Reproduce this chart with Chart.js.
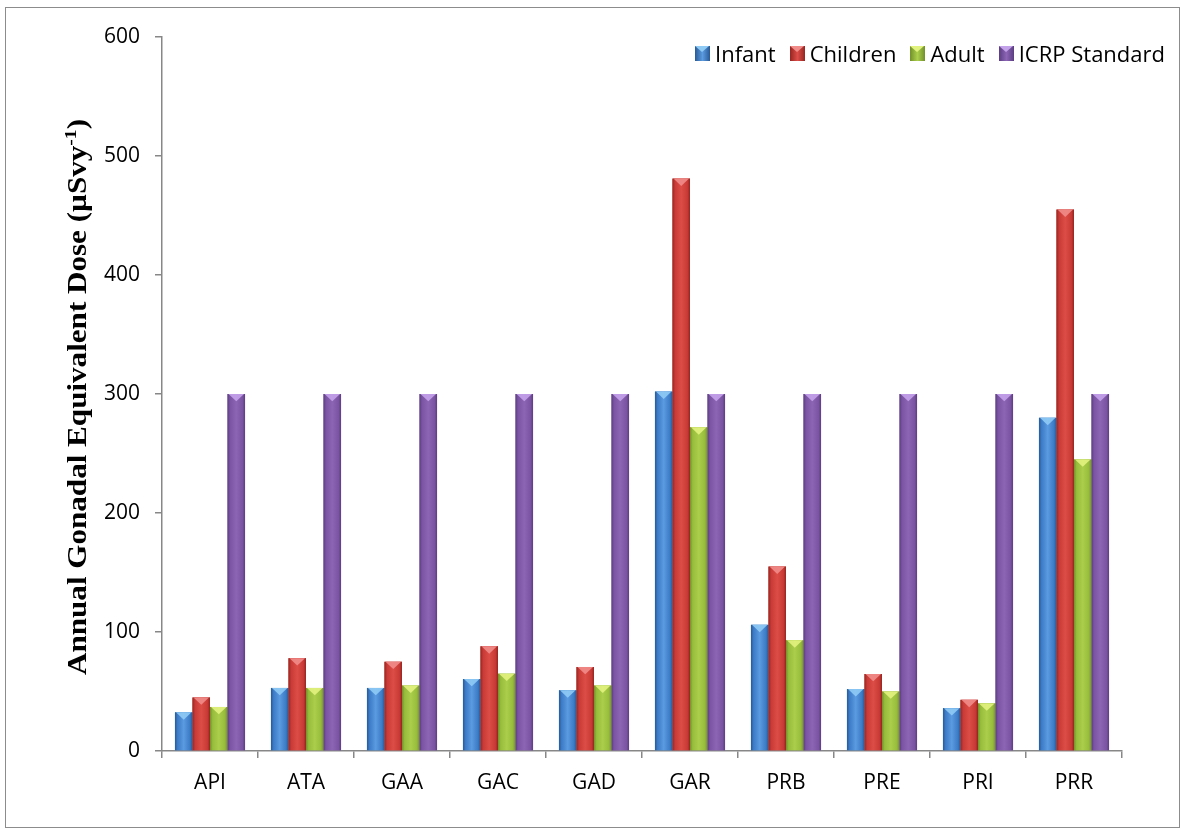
<!DOCTYPE html>
<html>
<head>
<meta charset="utf-8">
<script src="https://cdn.jsdelivr.net/npm/chart.js@4.4.1/dist/chart.umd.min.js"></script>
<style>
html,body{margin:0;padding:0;background:#fff;}
#wrap{position:relative;width:1184px;height:834px;overflow:hidden;}
#frame{position:absolute;left:5px;top:7px;width:1175px;height:821px;border:1px solid #8c8c8c;box-sizing:border-box;pointer-events:none;}
canvas{position:absolute;left:0;top:0;}
#legend{position:absolute;top:38px;right:19px;display:flex;align-items:center;font-family:"Open Sans",Lato,sans-serif;font-size:22px;color:#000;white-space:nowrap;}
#legend .item{display:flex;align-items:center;margin-left:14px;}
#legend .box{width:15px;height:15px;margin-right:5px;position:relative;}
</style>
</head>
<body>
<div id="wrap">
<canvas id="c" width="1184" height="834"></canvas>
<div id="frame"></div>
<div id="legend"></div>
</div>
<script>
const categories = ['API','ATA','GAA','GAC','GAD','GAR','PRB','PRE','PRI','PRR'];
const infant   = [32.5, 53, 53, 60.5, 51, 302, 106, 52, 36, 280];
const children = [45, 78, 75, 88, 70.6, 481, 155, 64.7, 43, 455];
const adult    = [37, 53, 55, 65, 55, 272, 93, 50, 40, 245];
const icrp     = [300, 300, 300, 300, 300, 300, 300, 300, 300, 300];
const seriesNames = ['Infant','Children','Adult','ICRP Standard'];
const yTicks = [0, 100, 200, 300, 400, 500, 600];

const palette = [
  {base:'#3c7bc6', dark:'#285a96', light:'#5b9be0', tri:'#8fcaf5'},
  {base:'#c83a35', dark:'#962521', light:'#dd4d48', tri:'#f08c8a'},
  {base:'#97bb3b', dark:'#72902a', light:'#abcf4c', tri:'#e2f27e'},
  {base:'#7b55a3', dark:'#5c3d82', light:'#8c66b5', tri:'#c4a2ea'}
];

const seriesData = [infant, children, adult, icrp];

// HTML legend
const lg = document.getElementById('legend');
seriesNames.forEach((n,i)=>{
  const it = document.createElement('div'); it.className='item';
  const b = document.createElement('div'); b.className='box';
  const p = palette[i];
  b.style.background = `linear-gradient(to right, ${p.dark}, ${p.light} 50%, ${p.dark})`;
  b.innerHTML = `<div style="position:absolute;left:0;top:0;width:0;height:0;border-left:7.5px solid transparent;border-right:7.5px solid transparent;border-top:6px solid ${p.tri};"></div>`;
  const t = document.createElement('span'); t.textContent = n;
  it.appendChild(b); it.appendChild(t); lg.appendChild(it);
});

const shadePlugin = {
  id:'shade',
  afterDatasetsDraw(chart){
    const ctx = chart.ctx;
    chart.data.datasets.forEach((ds, di)=>{
      const meta = chart.getDatasetMeta(di);
      const p = palette[di];
      meta.data.forEach(el=>{
        const w = el.width, l = el.x - w/2, r = el.x + w/2, top = el.y, base = el.base;
        const g = ctx.createLinearGradient(l,0,r,0);
        g.addColorStop(0, p.dark);
        g.addColorStop(0.15, p.base);
        g.addColorStop(0.5, p.light);
        g.addColorStop(0.85, p.base);
        g.addColorStop(1, p.dark);
        ctx.save();
        ctx.fillStyle = g;
        ctx.fillRect(l, top, w, base-top);
        ctx.beginPath();
        ctx.moveTo(l+1, top);
        ctx.lineTo(r-1, top);
        ctx.lineTo(el.x, top + Math.min(w*0.42, base-top));
        ctx.closePath();
        ctx.fillStyle = p.tri;
        ctx.globalAlpha = 0.9;
        ctx.fill();
        ctx.restore();
      });
    });
  }
};

const titlePlugin = {
  id:'ytitle',
  afterDraw(chart){
    const ctx = chart.ctx;
    const main = 'Annual Gonadal Equivalent Dose (\u00B5Svy';
    const sup = '-1';
    const end = ')';
    ctx.save();
    const f1 = 'bold 27px "Liberation Serif", "Times New Roman", serif';
    const f2 = 'bold 17px "Liberation Serif", "Times New Roman", serif';
    ctx.font = f1; const w1 = ctx.measureText(main).width; const w3 = ctx.measureText(end).width;
    ctx.font = f2; const w2 = ctx.measureText(sup).width;
    const total = w1 + w2 + w3;
    const sx = 556 / total;
    ctx.translate(86, 397);
    ctx.rotate(-Math.PI/2);
    ctx.scale(sx, 1);
    ctx.fillStyle = '#000';
    ctx.textBaseline = 'alphabetic';
    ctx.textAlign = 'left';
    let x = -total/2;
    ctx.font = f1; ctx.fillText(main, x, 0); x += w1;
    ctx.font = f2; ctx.fillText(sup, x, -10); x += w2;
    ctx.font = f1; ctx.fillText(end, x, 0);
    ctx.restore();
  }
};

const axisColor = '#878787';
const tickFont = {family:'"Open Sans"', size:21};
new Chart(document.getElementById('c'), {
  type:'bar',
  data:{
    labels: categories,
    datasets: seriesData.map((d,i)=>({
      label: seriesNames[i],
      data: d,
      backgroundColor: palette[i].base,
      borderWidth: 0,
      barPercentage: 1.0,
      categoryPercentage: 0.73
    }))
  },
  options:{
    responsive:false,
    animation:false,
    events:[],
    layout:{padding:{left:0, right:62, top:37, bottom:0}},
    plugins:{legend:{display:false}, tooltip:{enabled:false}},
    scales:{
      x:{
        grid:{drawOnChartArea:false, color:axisColor, tickLength:7, lineWidth:1.5, offset:true},
        border:{color:axisColor, width:1.5},
        ticks:{color:'#000', font:tickFont, padding:12},
        afterFit(s){ s.height = 83; }
      },
      y:{
        min:0, max:600,
        afterBuildTicks(s){ s.ticks = yTicks.map(v=>({value:v})); },
        grid:{drawOnChartArea:false, color:axisColor, tickLength:7, lineWidth:1.5},
        border:{color:axisColor, width:1.5},
        ticks:{color:'#000', font:tickFont, padding:15},
        afterFit(s){ s.width = 162; }
      }
    }
  },
  plugins:[shadePlugin, titlePlugin]
});
</script>
</body>
</html>
